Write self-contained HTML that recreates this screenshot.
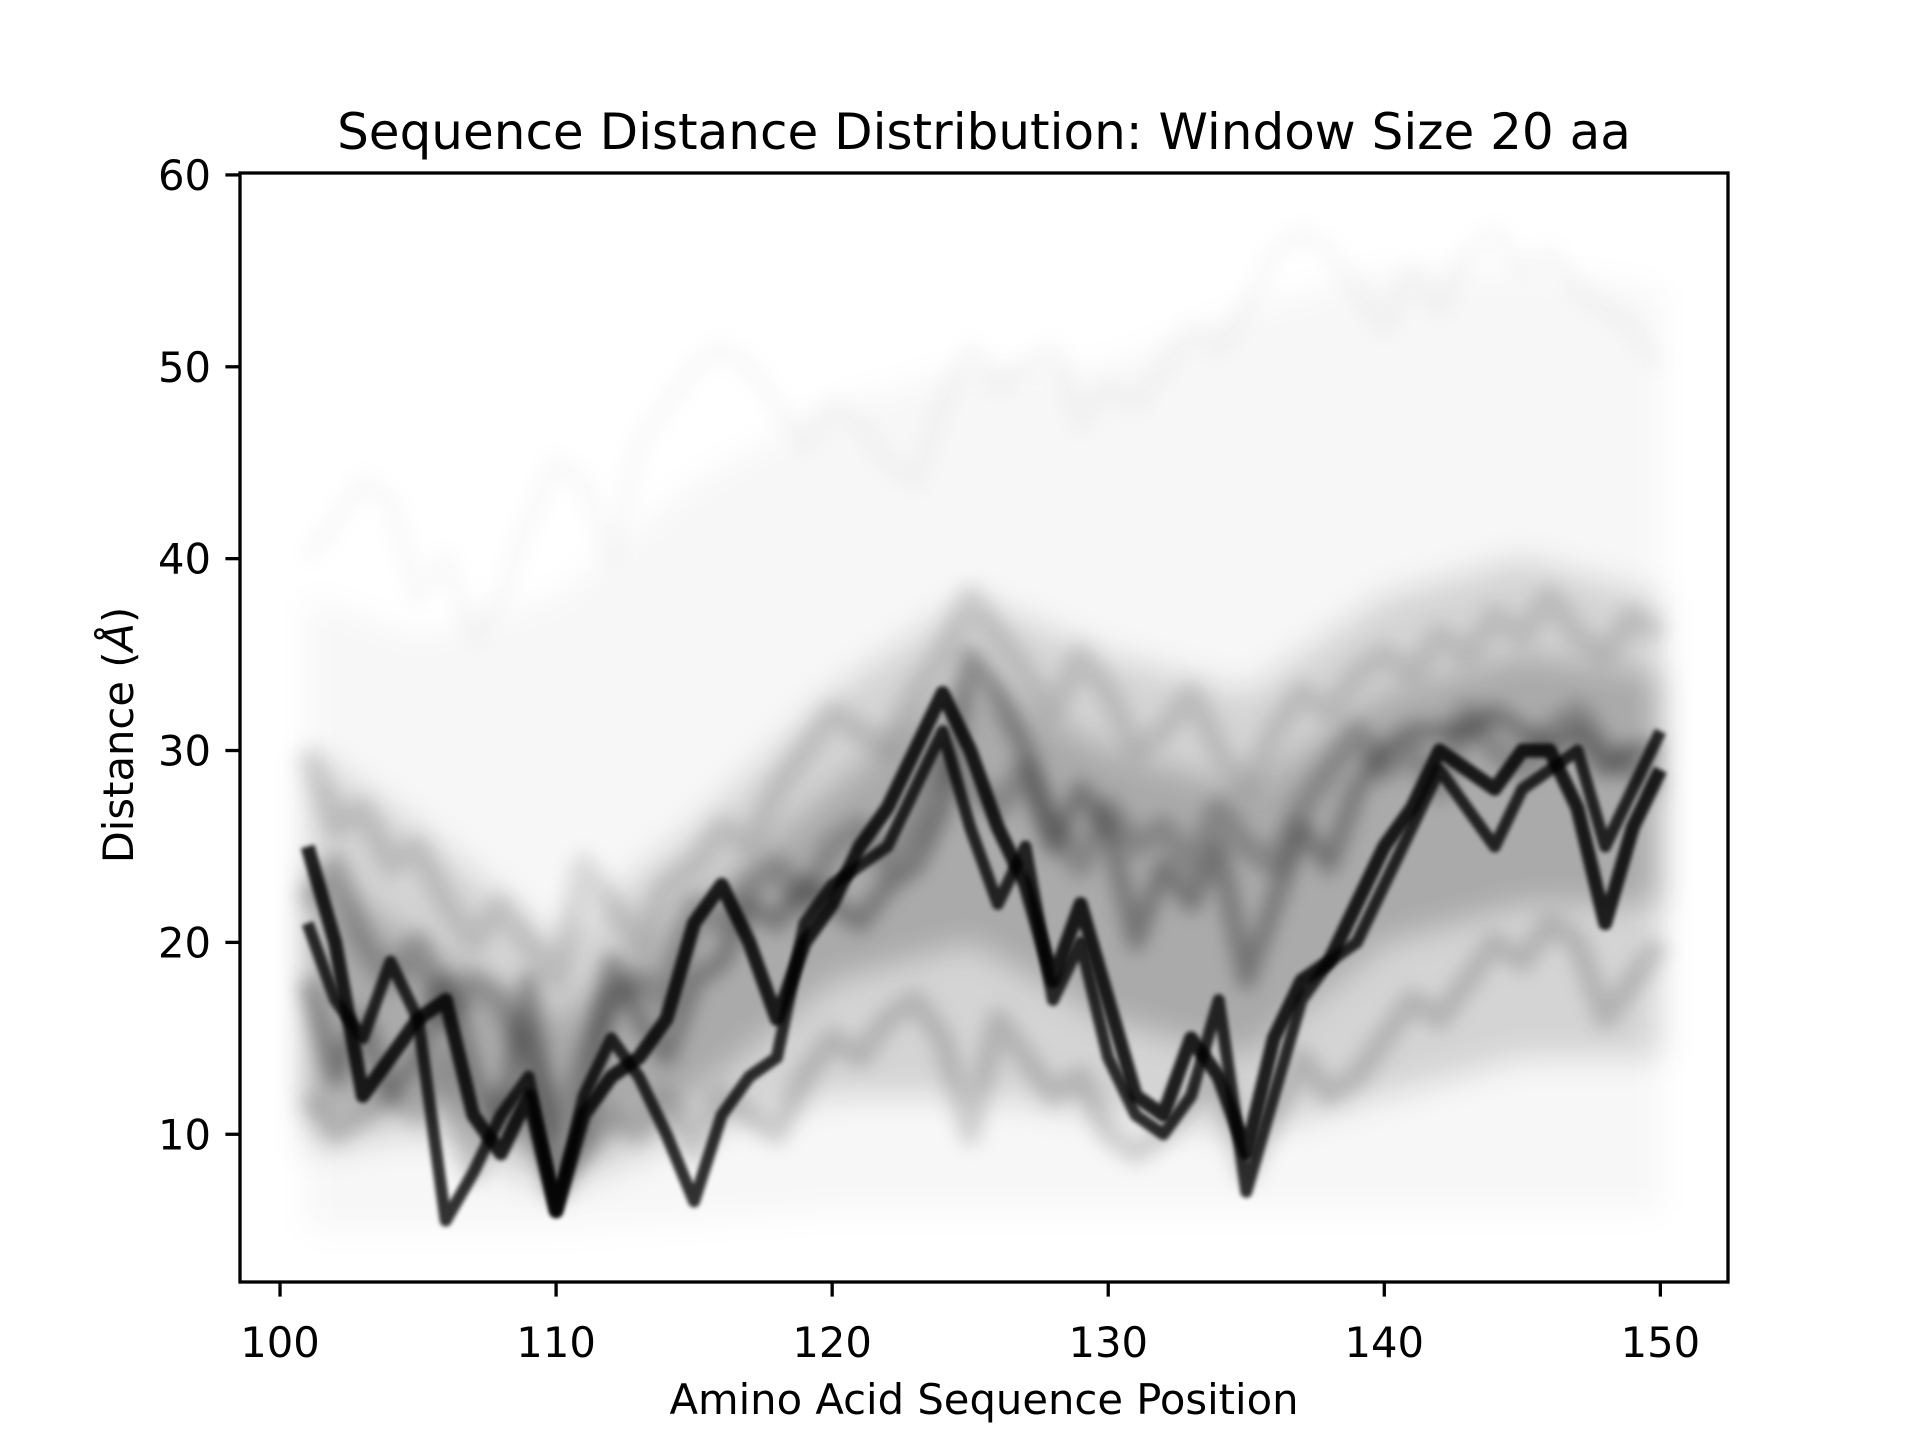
<!DOCTYPE html>
<html><head><meta charset="utf-8"><style>
html,body{margin:0;padding:0;background:#fff;}
svg{display:block;font-family:"DejaVu Sans","Liberation Sans",sans-serif;}
</style></head><body>
<svg id="chart" width="1920" height="1440" viewBox="0 0 1920 1440" xmlns="http://www.w3.org/2000/svg">
<defs>
<filter id="blurBig" x="-10%" y="-10%" width="120%" height="120%"><feGaussianBlur stdDeviation="16"/></filter>
<filter id="blurMid" x="-10%" y="-10%" width="120%" height="120%"><feGaussianBlur stdDeviation="9"/></filter>
<filter id="blurSm" x="-10%" y="-10%" width="120%" height="120%"><feGaussianBlur stdDeviation="2"/></filter>
<clipPath id="plotClip"><rect x="240" y="173" width="1488" height="1109"/></clipPath>
</defs>
<rect x="0" y="0" width="1920" height="1440" fill="#fff"/>
<g id="bands" clip-path="url(#plotClip)"></g>
<g id="lines" clip-path="url(#plotClip)"></g>
<rect x="240" y="173" width="1488" height="1109" fill="none" stroke="#000" stroke-width="3.3"/>
<g id="xticks"></g>
<g id="yticks"></g>
<text x="984" y="149" font-size="50" text-anchor="middle">Sequence Distance Distribution: Window Size 20 aa</text>
<text x="984" y="1414" font-size="41.7" text-anchor="middle">Amino Acid Sequence Position</text>
<text transform="translate(133,735) rotate(-90)" font-size="41.7" text-anchor="middle">Distance (<tspan font-style="italic">Å</tspan>)</text>
</svg>
<script>
const positions = [];
for (let p = 101; p <= 150; p++) positions.push(p);
const traceMainA = [25,20,12,14,16,17,11,9,12,6,11,13,14,16,21,23,20,16,20,22,25,27,30,33,30,26,23,18,22,17,12,11,15,13,9,15,18,19,22,25,27,30,29,28,30,30,27,21,26,29];
const traceMainB = [21,17,15,19,16,5.5,8,11,13,6,12,15,13,10,6.5,11,13,14,21,23,24,25,28,31,26,22,25,17,20,14,11,10,12,17,7,12,17,19,20,23,26,29,27,25,28,29,30,25,28,31];
const traceMid = [18,13,16,12,14,18,13,10,18,7,10,19,16,14,18,19,22,21,23,22,21,23,24,27,35,33,30,25,28,26,20,24,22,25,18,22,26,24,28,30,31,31,31,32,31,30,31,29,30,30];
const traceLow = [12,10,11,12,11,14,8,12,10,8,9,11,10,12,9,12,11,10,13,15,14,16,17,15,10,16,14,12,13,10,9,10,12,13,8,11,14,12,13,15,17,16,18,20,19,21,20,16,18,20];
const traceCenter = [22,24,20,18,20,16,18,17,14,10,14,17,18,17,22,21,23,24,22,25,26,24,26,30,28,27,29,26,24,27,25,26,24,27,25,24,27,29,31,29,30,28,32,30,29,31,32,30,29,28];
const traceUpper = [30,26,27,24,25,22,20,22,20,18,24,22,20,23,24,26,25,28,30,32,31,30,33,35,38,36,34,32,35,33,30,31,33,30,28,31,33,32,34,35,34,36,35,37,36,38,36,35,37,36];
const traceHigh = [40,42,44,43,38,40,36,38,42,45,44,40,46,48,50,51,50,48,46,48,47,45,44,48,51,49,50,51,47,49,48,50,52,51,53,56,57,56,54,52,55,53,56,57,55,56,54,53,52,50];
const bandPositions = [101,105,110,115,120,125,130,135,140,145,150];
const outerLow = [5,5,5,5.5,6,6,6,6,6,6,6];
const outerHigh = [38,36,38,44,48,50,50,53,55,55,54];
const midLow = [9,10,7,10,12,12,11,10,12,14,14];
const midHigh = [30,26,20,26,33,38,35,33,38,40,38];
const coreLow = [11,12,9,12,18,20,16,14,20,22,22];
const coreHigh = [24,20,16,22,28,34,30,28,33,35,34];
const xTickVals = [100,110,120,130,140,150];
const yTickVals = [10,20,30,40,50,60];

const X0=240,X1=1728,Y0=173,Y1=1282;
const xMin=98.55,xMax=152.45,yMin=2.3,yMax=60.1;
function sx(v){return X0+(v-xMin)/(xMax-xMin)*(X1-X0);}
function sy(v){return Y1-(v-yMin)/(yMax-yMin)*(Y1-Y0);}
const NS='http://www.w3.org/2000/svg';
const bandsG=document.getElementById('bands');
const linesG=document.getElementById('lines');

function bandPath(lo,hi){
  let d='';
  bandPositions.forEach((p,i)=>{d+=(i?'L':'M')+sx(p).toFixed(1)+','+sy(hi[i]).toFixed(1);});
  for(let i=bandPositions.length-1;i>=0;i--) d+='L'+sx(bandPositions[i]).toFixed(1)+','+sy(lo[i]).toFixed(1);
  return d+'Z';
}
function addBand(lo,hi,op,name){
  const p=document.createElementNS(NS,'path');
  p.setAttribute('d',bandPath(lo,hi));
  p.setAttribute('fill','#000');
  p.setAttribute('fill-opacity',op);
  p.setAttribute('filter','url(#blurBig)');
  
  
  bandsG.appendChild(p);
}
addBand(outerLow,outerHigh,0.03,'outer-band');
addBand(midLow,midHigh,0.14,'middle-band');
addBand(coreLow,coreHigh,0.2,'core-band');

function linePath(vals){
  return vals.map((v,i)=>(i?'L':'M')+sx(positions[i]).toFixed(1)+','+sy(v).toFixed(1)).join('');
}
function addTrace(vals,width,op,blur,name){
  const p=document.createElementNS(NS,'path');
  p.setAttribute('d',linePath(vals));
  p.setAttribute('fill','none');
  p.setAttribute('stroke','#000');
  p.setAttribute('stroke-width',width);
  p.setAttribute('stroke-opacity',op);
  p.setAttribute('stroke-linejoin','round');
  p.setAttribute('filter',blur);
  
  
  linesG.appendChild(p);
}
addTrace(traceHigh,20,0.025,'url(#blurMid)','trace-high');
addTrace(traceUpper,24,0.12,'url(#blurMid)','trace-upper');
addTrace(traceCenter,24,0.22,'url(#blurMid)','trace-center');
addTrace(traceLow,22,0.16,'url(#blurMid)','trace-low');
addTrace(traceMid,18,0.32,'url(#blurMid)','trace-mid');
addTrace(traceMainB,12,0.8,'url(#blurSm)','trace-main-b');
addTrace(traceMainA,14,0.85,'url(#blurSm)','trace-main-a');

const xg=document.getElementById('xticks');
xTickVals.forEach(v=>{
  const x=sx(v);
  const l=document.createElementNS(NS,'line');
  l.setAttribute('x1',x);l.setAttribute('x2',x);l.setAttribute('y1',Y1);l.setAttribute('y2',Y1+14.6);
  l.setAttribute('stroke','#000');l.setAttribute('stroke-width','3.3');
  
  
  xg.appendChild(l);
  const t=document.createElementNS(NS,'text');
  t.setAttribute('x',x);t.setAttribute('y',1357);t.setAttribute('font-size','41.7');t.setAttribute('text-anchor','middle');
  t.textContent=v;
  
  
  xg.appendChild(t);
});
const yg=document.getElementById('yticks');
yTickVals.forEach(v=>{
  const y=sy(v);
  const l=document.createElementNS(NS,'line');
  l.setAttribute('x1',X0-14.6);l.setAttribute('x2',X0);l.setAttribute('y1',y);l.setAttribute('y2',y);
  l.setAttribute('stroke','#000');l.setAttribute('stroke-width','3.3');
  
  
  yg.appendChild(l);
  const t=document.createElementNS(NS,'text');
  t.setAttribute('x',X0-29);t.setAttribute('y',y+15);t.setAttribute('font-size','41.7');t.setAttribute('text-anchor','end');
  t.textContent=v;
  
  
  yg.appendChild(t);
});
</script>
</body></html>
